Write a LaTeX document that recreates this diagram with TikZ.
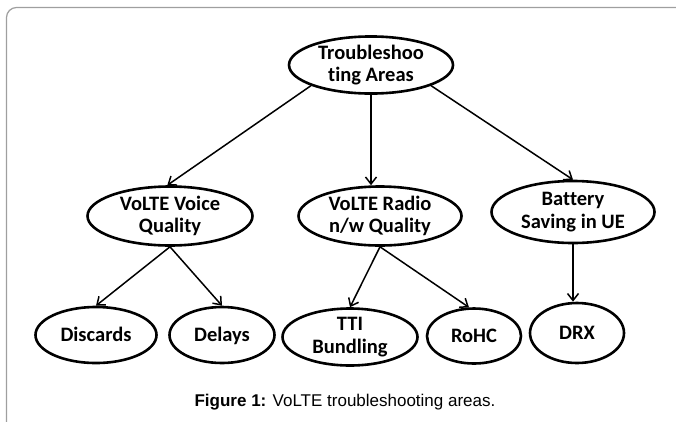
\documentclass[tikz,border=0pt]{standalone}
\usepackage{fontspec}
\setmainfont[Ligatures={NoCommon}]{Carlito}
\newfontfamily\capfont{Liberation Sans}
\usetikzlibrary{shapes.geometric,arrows.meta}

\tikzset{
  area/.style={ellipse, draw=black, line width=2.6pt, inner sep=0pt,
    align=center, font=\fontsize{20.5}{22.5}\selectfont\bfseries},
  oneline/.style={area, text height=13pt, text depth=0pt},
  link/.style={line width=1.5pt, -{Straight Barb[length=7pt,width=11pt,line width=1.5pt]}},
}

\begin{document}
\begin{tikzpicture}[x=1pt,y=-1pt]
  \useasboundingbox (0,0) rectangle (676,421);
  % page frame, running off the right and bottom edges
  \draw[gray!75, line width=1.2pt, rounded corners=10pt] (6.5,7.5) rectangle (690,440);

  % root
  \node[area, minimum width=164pt, minimum height=56pt] (top) at (371,65) {Troubleshoo\\ting Areas};

  % second level
  \node[area, minimum width=165pt, minimum height=59pt] (voice) at (170,216) {VoLTE Voice\\Quality};
  \node[area, minimum width=163pt, minimum height=59pt] (radio) at (380,216) {VoLTE Radio\\n/w Quality};
  \node[area, minimum width=163pt, minimum height=62pt] (battery) at (573,212) {Battery\\Saving in UE};

  % leaves
  \node[oneline, minimum width=121pt, minimum height=56pt] (disc) at (96,335) {Discards};
  \node[oneline, minimum width=105pt, minimum height=56pt] (delay) at (222,335) {Delays};
  \node[area, minimum width=135pt, minimum height=57pt] (tti) at (350,337) {TTI\\Bundling};
  \node[oneline, minimum width=94pt, minimum height=55pt] (rohc) at (474,336) {RoHC};
  \node[oneline, minimum width=94pt, minimum height=60pt] (drx) at (577,333) {DRX};

  % connectors
  \draw[link] (top.199) -- (voice.95);
  \draw[link] (top.south) -- (top.south |- radio.north);
  \draw[link] (top.-19) -- (battery.north);
  \draw[link] (voice.south) -- (disc.north);
  \draw[link] (voice.south) -- (delay.north);
  \draw[link] (radio.south) -- (tti.north);
  \draw[link] (radio.south) -- (rohc.100);
  \draw[link] (battery.south) -- (battery.south |- drx.north);

  % caption
  \node[font=\capfont\fontsize{17}{19}\selectfont] (cap) at (345,402)
    {\textbf{Figure 1:} VoLTE troubleshooting areas.};
\end{tikzpicture}
\end{document}
